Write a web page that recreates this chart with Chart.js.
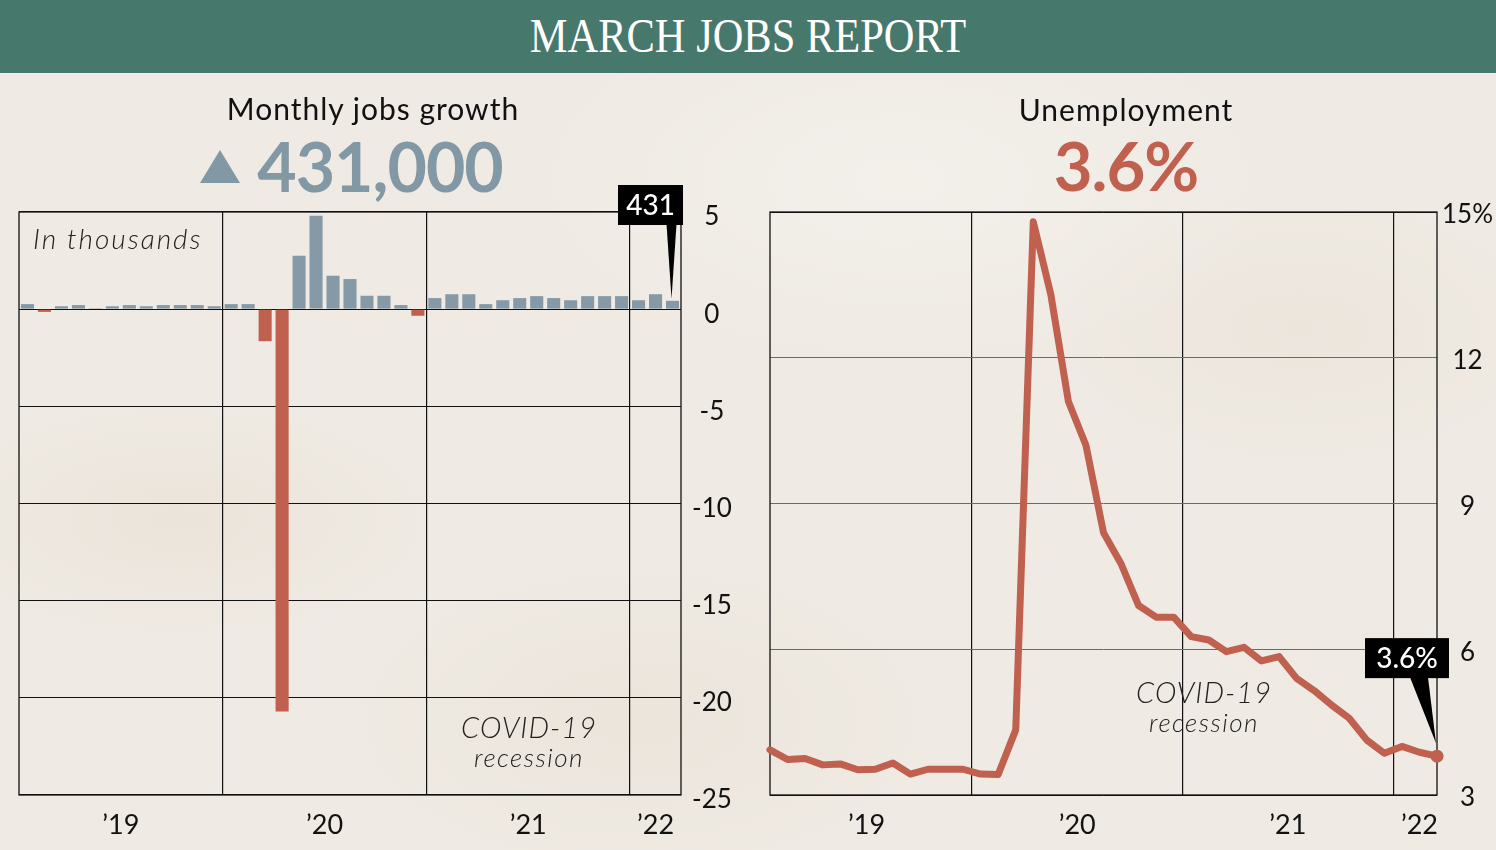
<!DOCTYPE html>
<html>
<head>
<meta charset="utf-8">
<script src="https://cdn.jsdelivr.net/npm/chart.js@4.4.1/dist/chart.umd.min.js"></script>
<style>
html,body{margin:0;padding:0;}
body{width:1496px;height:850px;position:relative;overflow:hidden;background:#efeae3;font-family:Lato,"Noto Sans",sans-serif;color:#111;}
#bg{position:absolute;left:0;top:0;width:1496px;height:850px;
 background:
 radial-gradient(ellipse 260px 120px at 180px 520px, rgba(215,200,180,0.18), rgba(0,0,0,0)),
 radial-gradient(ellipse 300px 160px at 640px 720px, rgba(215,200,180,0.16), rgba(0,0,0,0)),
 radial-gradient(ellipse 260px 140px at 1300px 330px, rgba(215,200,180,0.14), rgba(0,0,0,0)),
 radial-gradient(ellipse 400px 200px at 900px 180px, rgba(255,255,255,0.25), rgba(0,0,0,0));}
.header{position:absolute;left:0;top:0;width:1496px;height:73px;background:#46786b;}
.header .ttl{position:absolute;left:748px;top:12px;font-family:"Liberation Serif","DejaVu Serif",serif;font-size:48px;line-height:1;color:#fff;white-space:nowrap;transform:translateX(-50%) scaleX(0.885);transform-origin:center;}
canvas{position:absolute;top:0;}
.t{position:absolute;white-space:nowrap;line-height:1;transform:translateX(-50%);}
.sub{font-size:30px;font-weight:400;letter-spacing:1px;}
.big{font-size:68px;font-weight:700;}
.note{font-style:italic;font-weight:300;color:#222;}
.tri{position:absolute;left:200px;top:150px;width:0;height:0;border-left:20.5px solid transparent;border-right:20.5px solid transparent;border-bottom:33px solid #8398a5;}
</style>
</head>
<body>
<div id="bg"></div>
<canvas id="jobs" width="748" height="850" style="left:0;width:748px;height:850px;"></canvas>
<canvas id="unemp" width="748" height="850" style="left:748px;width:748px;height:850px;"></canvas>
<div class="header"><div class="ttl">MARCH JOBS REPORT</div></div>
<div class="t sub" style="left:373px;top:93px;">Monthly jobs growth</div>
<div class="tri"></div>
<div class="t big" style="left:380px;top:132px;color:#8398a5;letter-spacing:-1px;">431,000</div>
<div class="t sub" style="left:1126px;top:94px;">Unemployment</div>
<div class="t big" style="left:1126px;top:132px;color:#c0604f;font-size:67px;letter-spacing:-1px;">3.6%</div>
<div class="note" style="position:absolute;left:33px;top:224px;font-size:28px;line-height:1;white-space:nowrap;letter-spacing:2px;">In thousands</div>
<div class="t note" style="left:529px;top:712px;font-size:29px;letter-spacing:1px;">COVID-19</div>
<div class="t note" style="left:529px;top:744px;font-size:26px;letter-spacing:1.5px;">recession</div>
<div class="t note" style="left:1204px;top:677px;font-size:29px;letter-spacing:1px;">COVID-19</div>
<div class="t note" style="left:1204px;top:709px;font-size:26px;letter-spacing:1.5px;">recession</div>
<script>
// ---- Data ----
const months = ["Jan 19","Feb 19","Mar 19","Apr 19","May 19","Jun 19","Jul 19","Aug 19","Sep 19","Oct 19","Nov 19","Dec 19",
  "Jan 20","Feb 20","Mar 20","Apr 20","May 20","Jun 20","Jul 20","Aug 20","Sep 20","Oct 20","Nov 20","Dec 20",
  "Jan 21","Feb 21","Mar 21","Apr 21","May 21","Jun 21","Jul 21","Aug 21","Sep 21","Oct 21","Nov 21","Dec 21",
  "Jan 22","Feb 22","Mar 22"];
// monthly change in payrolls, millions
const jobsChange = [0.26,-0.14,0.15,0.21,0.05,0.15,0.21,0.15,0.21,0.21,0.21,0.15,
  0.26,0.26,-1.65,-20.7,2.75,4.81,1.72,1.55,0.69,0.69,0.21,-0.34,
  0.57,0.77,0.77,0.26,0.46,0.57,0.67,0.57,0.46,0.67,0.67,0.67,
  0.46,0.77,0.431];
// unemployment rate, %
const unemploymentRate = [3.93,3.73,3.75,3.62,3.64,3.52,3.53,3.66,3.43,3.53,3.53,3.53,
  3.43,3.42,4.34,14.8,13.3,11.1,10.2,8.4,7.76,6.9,6.66,6.66,
  6.26,6.19,5.95,6.04,5.76,5.85,5.4,5.15,4.85,4.58,4.13,3.86,
  4.0,3.88,3.8];
const yearLabels = ["\u201919","\u201920","\u201921","\u201922"];
const yearCenters = [5.5,17.5,29.5,37];
const yearBoundaries = [11.5,23.5,35.5];
const jobsTicks = [5,0,-5,-10,-15,-20,-25];
const rateTicks = [3,6,9,12,15];
const latestJobsLabel = "431";
const latestRateLabel = "3.6%";

const BLUE = '#8599a6', RED = '#c0604f', INK = '#111';
const tickFont = {family:'Lato, "Noto Sans", sans-serif', size:26};
Chart.defaults.color = INK;

function frame(chart){
  const {ctx, chartArea:a} = chart;
  ctx.save(); ctx.strokeStyle = INK; ctx.lineWidth = 1.3;
  ctx.strokeRect(a.left, a.top, a.right - a.left, a.bottom - a.top);
  ctx.restore();
}
function callout(ctx, bx, by, bw, bh, base1, base2, tipX, tipY, text){
  ctx.save();
  ctx.fillStyle = '#000';
  ctx.beginPath(); ctx.moveTo(base1, by + bh - 1); ctx.lineTo(base2, by + bh - 1); ctx.lineTo(tipX, tipY); ctx.closePath(); ctx.fill();
  ctx.fillRect(bx, by, bw, bh);
  ctx.fillStyle = '#fff'; ctx.font = '500 28px Lato, "Noto Sans", sans-serif';
  ctx.textAlign = 'center'; ctx.textBaseline = 'middle';
  ctx.fillText(text, bx + bw/2, by + bh/2 + 1);
  ctx.restore();
}

// ---- Left: jobs bars ----
new Chart(document.getElementById('jobs'), {
  type:'bar',
  data:{labels:months, datasets:[{data:jobsChange, xAxisID:'x', yAxisID:'y',
    backgroundColor: c => c.raw < 0 ? RED : BLUE, barPercentage:0.77, categoryPercentage:1.0}]},
  options:{
    responsive:false, animation:false, devicePixelRatio:1,
    layout:{padding:{left:19, top:212, right:0, bottom:0}},
    plugins:{legend:{display:false}, tooltip:{enabled:false}},
    scales:{
      x:{type:'category', position:'bottom', offset:true,
        grid:{offset:true, drawTicks:false, lineWidth:1.2,
          color: c => (yearBoundaries.map(v=>Math.ceil(v)).includes(c.index) ? INK : 'rgba(0,0,0,0)')},
        border:{display:false}, ticks:{display:false},
        afterFit: s => { s.height = 0; }},
      x2:{type:'linear', position:'bottom', min:-0.5, max:38.5, offset:false,
        grid:{display:false, offset:false}, border:{display:false},
        afterBuildTicks: s => { s.ticks = yearCenters.map(v => ({value:v})); },
        ticks:{font:{...tickFont, size:27}, padding:6, maxRotation:0, autoSkip:false,
          callback:(v,i) => yearLabels[i]},
        afterFit: s => { s.height = 55; }},
      y:{position:'right', min:-25, max:5,
        afterBuildTicks: s => { s.ticks = jobsTicks.map(v => ({value:v})); },
        grid:{color:INK, lineWidth:1.1, drawTicks:false}, border:{display:false},
        ticks:{font:tickFont, padding:11, crossAlign:'center', labelOffset:5},
        afterFit: s => { s.width = 67; }}
    }
  },
  plugins:[{id:'deco',
    beforeDatasetsDraw(chart){ frame(chart); },
    afterDatasetsDraw(chart){
      const meta = chart.getDatasetMeta(0); const bar = meta.data[meta.data.length-1];
      const a = chart.chartArea;
      callout(chart.ctx, bar.x - 54.5, a.top - 27, 65, 40, bar.x - 6, bar.x + 4, bar.x - 1, bar.y - 2, latestJobsLabel);
    }}]
});

// ---- Right: unemployment line ----
new Chart(document.getElementById('unemp'), {
  type:'line',
  data:{datasets:[{data: unemploymentRate.map((v,i) => ({x:i, y:v})), xAxisID:'x', yAxisID:'y',
    borderColor:RED, backgroundColor:RED, borderWidth:7, tension:0,
    borderJoinStyle:'round', borderCapStyle:'round', clip:false,
    pointRadius: c => c.dataIndex === unemploymentRate.length-1 ? 6.5 : 0, pointBorderWidth:0}]},
  options:{
    responsive:false, animation:false, devicePixelRatio:1,
    layout:{padding:{left:22, top:212, right:0, bottom:0}},
    plugins:{legend:{display:false}, tooltip:{enabled:false}},
    scales:{
      x:{type:'linear', position:'bottom', min:0, max:months.length-1,
        afterBuildTicks: s => { s.ticks = yearBoundaries.map(v => ({value:v})); },
        grid:{color:INK, lineWidth:1.2, drawTicks:false}, border:{display:false}, ticks:{display:false},
        afterFit: s => { s.height = 0; }},
      x2:{type:'linear', position:'bottom', min:0, max:months.length-1,
        grid:{display:false}, border:{display:false},
        afterBuildTicks: s => { s.ticks = yearCenters.map(v => ({value:v})); },
        ticks:{font:{...tickFont, size:27}, padding:6, maxRotation:0, autoSkip:false,
          callback:(v,i) => yearLabels[i]},
        afterFit: s => { s.height = 55; }},
      y:{position:'right', min:3, max:15,
        afterBuildTicks: s => { s.ticks = rateTicks.map(v => ({value:v})); },
        grid:{drawTicks:false, lineWidth:1, color: c => (c.tick && (c.tick.value===3 || c.tick.value===15)) ? INK : '#6a6a6a'},
        border:{display:false},
        ticks:{font:tickFont, padding:5, crossAlign:'center', labelOffset:3,
          callback: v => v === 15 ? '15%' : String(v)},
        afterFit: s => { s.width = 59; }}
    }
  },
  plugins:[{id:'deco2',
    beforeDatasetsDraw(chart){ frame(chart); },
    afterDatasetsDraw(chart){
      const meta = chart.getDatasetMeta(0); const pt = meta.data[meta.data.length-1];
      callout(chart.ctx, pt.x - 72, pt.y - 118, 84, 40, pt.x - 27, pt.x - 9, pt.x - 1, pt.y - 13, latestRateLabel);
    }}]
});
</script>
</body>
</html>
